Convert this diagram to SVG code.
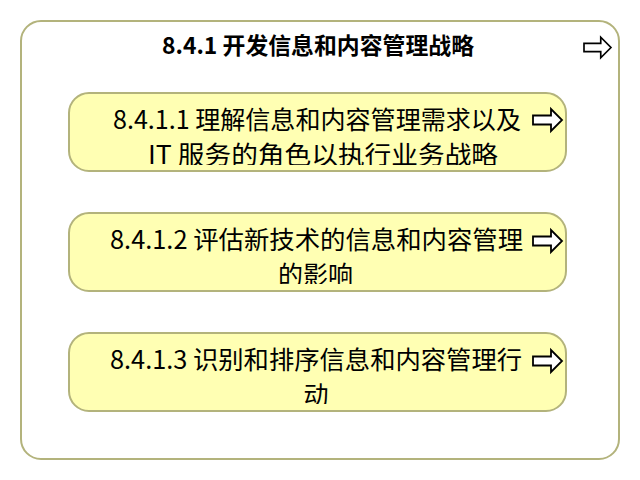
<svg xmlns="http://www.w3.org/2000/svg" width="640" height="480" viewBox="0 0 640 480">
<style>
.outer{fill:#ffffff;stroke:#b3b37c;stroke-width:2}
.box{fill:#ffffb3;stroke:#b3b37c;stroke-width:2}
.arrow{fill:#ffffff;stroke:#000000;stroke-width:1.8;stroke-linejoin:miter}
.title{font-family:"Noto Sans CJK SC","Noto Sans",sans-serif;font-size:23px;font-weight:bold;fill:#000;text-anchor:middle}
.lbl{font-family:"Noto Sans CJK SC","Noto Sans",sans-serif;font-size:25px;fill:#000;text-anchor:middle}
</style>
<defs>
<path id="arr" d="M0,-4.5 H18 V-11 L29,0 L18,11 V4.5 H0 Z"/>
<clipPath id="c1"><rect x="69" y="93" width="497" height="72"/></clipPath>
<clipPath id="c2"><rect x="69" y="213" width="497" height="71"/></clipPath>
<clipPath id="c3"><rect x="69" y="333" width="497" height="71"/></clipPath>
</defs>
<g id="outer">
<rect class="outer" x="21" y="21" width="598" height="438" rx="20" ry="20"/>
<text class="title" x="318" y="54" textLength="312" lengthAdjust="spacingAndGlyphs">8.4.1 开发信息和内容管理战略</text>
<use href="#arr" class="arrow" transform="translate(584,47.5) scale(0.93)"/>
</g>
<g id="node1">
<rect class="box" x="69" y="93" width="497" height="78" rx="20" ry="20"/>
<g clip-path="url(#c1)">
<text class="lbl" x="317" y="129" textLength="408" lengthAdjust="spacingAndGlyphs">8.4.1.1 理解信息和内容管理需求以及</text>
<text class="lbl" x="323" y="164" textLength="350" lengthAdjust="spacingAndGlyphs">IT 服务的角色以执行业务战略</text>
</g>
<use href="#arr" class="arrow" transform="translate(533,120)"/>
</g>
<g id="node2">
<rect class="box" x="69" y="213" width="497" height="78" rx="20" ry="20"/>
<g clip-path="url(#c2)">
<text class="lbl" x="316.5" y="249" textLength="413" lengthAdjust="spacingAndGlyphs">8.4.1.2 评估新技术的信息和内容管理</text>
<text class="lbl" x="315.5" y="284" textLength="75" lengthAdjust="spacingAndGlyphs">的影响</text>
</g>
<use href="#arr" class="arrow" transform="translate(533,241)"/>
</g>
<g id="node3">
<rect class="box" x="69" y="333" width="497" height="78" rx="20" ry="20"/>
<g clip-path="url(#c3)">
<text class="lbl" x="316" y="369" textLength="412" lengthAdjust="spacingAndGlyphs">8.4.1.3 识别和排序信息和内容管理行</text>
<text class="lbl" x="316" y="404">动</text>
</g>
<use href="#arr" class="arrow" transform="translate(533,361)"/>
</g>
<g id="connectors"></g>
</svg>
